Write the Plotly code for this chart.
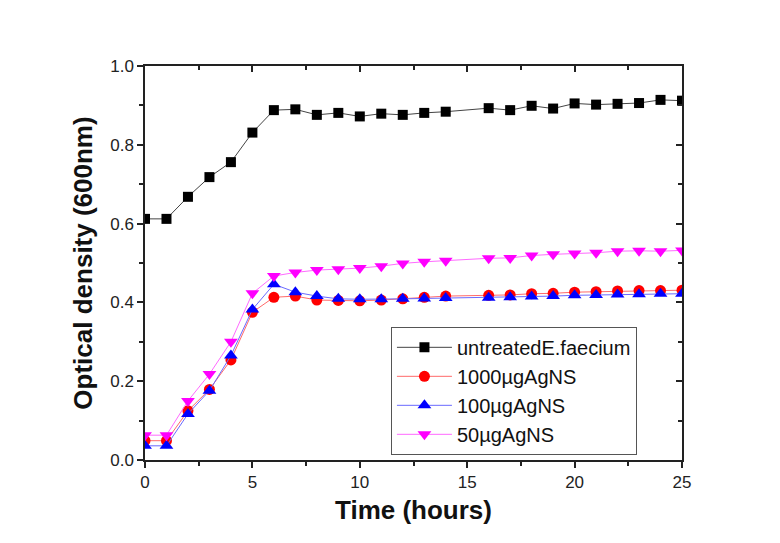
import plotly.graph_objects as go

hours = [0, 1, 2, 3, 4, 5, 6, 7, 8, 9, 10, 11, 12, 13, 14, 16, 17, 18, 19, 20, 21, 22, 23, 24, 25]

untreated = [0.612, 0.612, 0.668, 0.718, 0.756, 0.831, 0.888, 0.890, 0.876, 0.881, 0.872, 0.879, 0.876,
             0.881, 0.884, 0.893, 0.888, 0.899, 0.892, 0.905, 0.902, 0.904, 0.906, 0.914, 0.912]
ag1000 = [0.049, 0.049, 0.125, 0.179, 0.254, 0.375, 0.413, 0.416, 0.406, 0.405, 0.404, 0.406, 0.409,
          0.413, 0.416, 0.418, 0.419, 0.422, 0.423, 0.426, 0.427, 0.429, 0.430, 0.430, 0.431]
ag100 = [0.036, 0.036, 0.117, 0.176, 0.265, 0.382, 0.446, 0.426, 0.416, 0.409, 0.408, 0.408, 0.409,
         0.410, 0.411, 0.412, 0.413, 0.415, 0.416, 0.418, 0.419, 0.420, 0.421, 0.422, 0.422]
ag50 = [0.063, 0.063, 0.150, 0.218, 0.300, 0.423, 0.467, 0.476, 0.482, 0.484, 0.487, 0.492, 0.499,
        0.503, 0.506, 0.512, 0.513, 0.519, 0.522, 0.524, 0.526, 0.530, 0.531, 0.530, 0.532]

names = ["untreatedE.faecium", "1000\u00b5gAgNS", "100\u00b5gAgNS", "50\u00b5gAgNS"]
series = [untreated, ag1000, ag100, ag50]
marker_colors = ["#000000", "#ff0000", "#0000ff", "#ff00ff"]
line_colors = ["#444444", "#ff6a6a", "#6a6aff", "#ff6aff"]
symbols = ["square", "circle", "triangle-up", "triangle-down"]
sizes = [10, 11, 12, 12]

fig = go.Figure()
for n, s, mc, lc, sym, sz in zip(names, series, marker_colors, line_colors, symbols, sizes):
    fig.add_trace(go.Scatter(
        x=hours, y=s, name=n, mode="lines+markers",
        line=dict(color=lc, width=1),
        marker=dict(color=mc, symbol=sym, size=sz, line=dict(width=0)),
    ))

# invisible trace for mirrored axes (top/right with inside ticks)
fig.add_trace(go.Scatter(x=[0], y=[0], xaxis="x2", yaxis="y2", mode="markers",
                         marker=dict(opacity=0), showlegend=False, hoverinfo="skip"))

font_family = "Liberation Sans, Arial, sans-serif"

fig.update_layout(
    width=780, height=543,
    margin=dict(l=137, r=106, t=58, b=91),
    paper_bgcolor="white", plot_bgcolor="white",
    font=dict(family=font_family, color="#222222"),
    showlegend=True,
    legend=dict(
        x=0.458, y=0.338, xanchor="left", yanchor="top",
        bordercolor="#555555", borderwidth=1, bgcolor="white",
        font=dict(size=20, color="#111111"),
        tracegroupgap=0, itemwidth=55,
    ),
    xaxis=dict(
        range=[0, 25], tickmode="linear", tick0=0, dtick=5,
        ticks="outside", ticklen=6, tickwidth=1.5, tickcolor="#222",
        minor=dict(dtick=2.5, ticks="outside", ticklen=4, tickwidth=1.5, tickcolor="#222"),
        showline=True, linecolor="#222", linewidth=1.5,
        showgrid=False, zeroline=False,
        tickfont=dict(size=17, color="#222"),
        title=dict(text="<b>Time (hours)</b>", font=dict(size=26, color="#111"), standoff=10),
    ),
    yaxis=dict(
        range=[0, 1.0], tickmode="linear", tick0=0, dtick=0.2, tickformat=".1f",
        ticks="outside", ticklen=6, tickwidth=1.5, tickcolor="#222",
        minor=dict(dtick=0.1, ticks="outside", ticklen=4, tickwidth=1.5, tickcolor="#222"),
        showline=True, linecolor="#222", linewidth=1.5,
        showgrid=False, zeroline=False,
        tickfont=dict(size=17, color="#222"),
        title=dict(text="<b>Optical density (600nm)</b>", font=dict(size=26, color="#111"), standoff=10),
    ),
    xaxis2=dict(
        overlaying="x", side="top", range=[0, 25], tickmode="linear", tick0=0, dtick=5,
        ticks="inside", ticklen=6, tickwidth=1.5, tickcolor="#222",
        minor=dict(dtick=2.5, ticks="inside", ticklen=4, tickwidth=1.5, tickcolor="#222"),
        showline=True, linecolor="#222", linewidth=1.5,
        showticklabels=False, showgrid=False, zeroline=False,
    ),
    yaxis2=dict(
        overlaying="y", side="right", range=[0, 1.0], tickmode="linear", tick0=0, dtick=0.2,
        ticks="inside", ticklen=6, tickwidth=1.5, tickcolor="#222",
        minor=dict(dtick=0.1, ticks="inside", ticklen=4, tickwidth=1.5, tickcolor="#222"),
        showline=True, linecolor="#222", linewidth=1.5,
        showticklabels=False, showgrid=False, zeroline=False,
    ),
)

fig.write_html("out.html")
